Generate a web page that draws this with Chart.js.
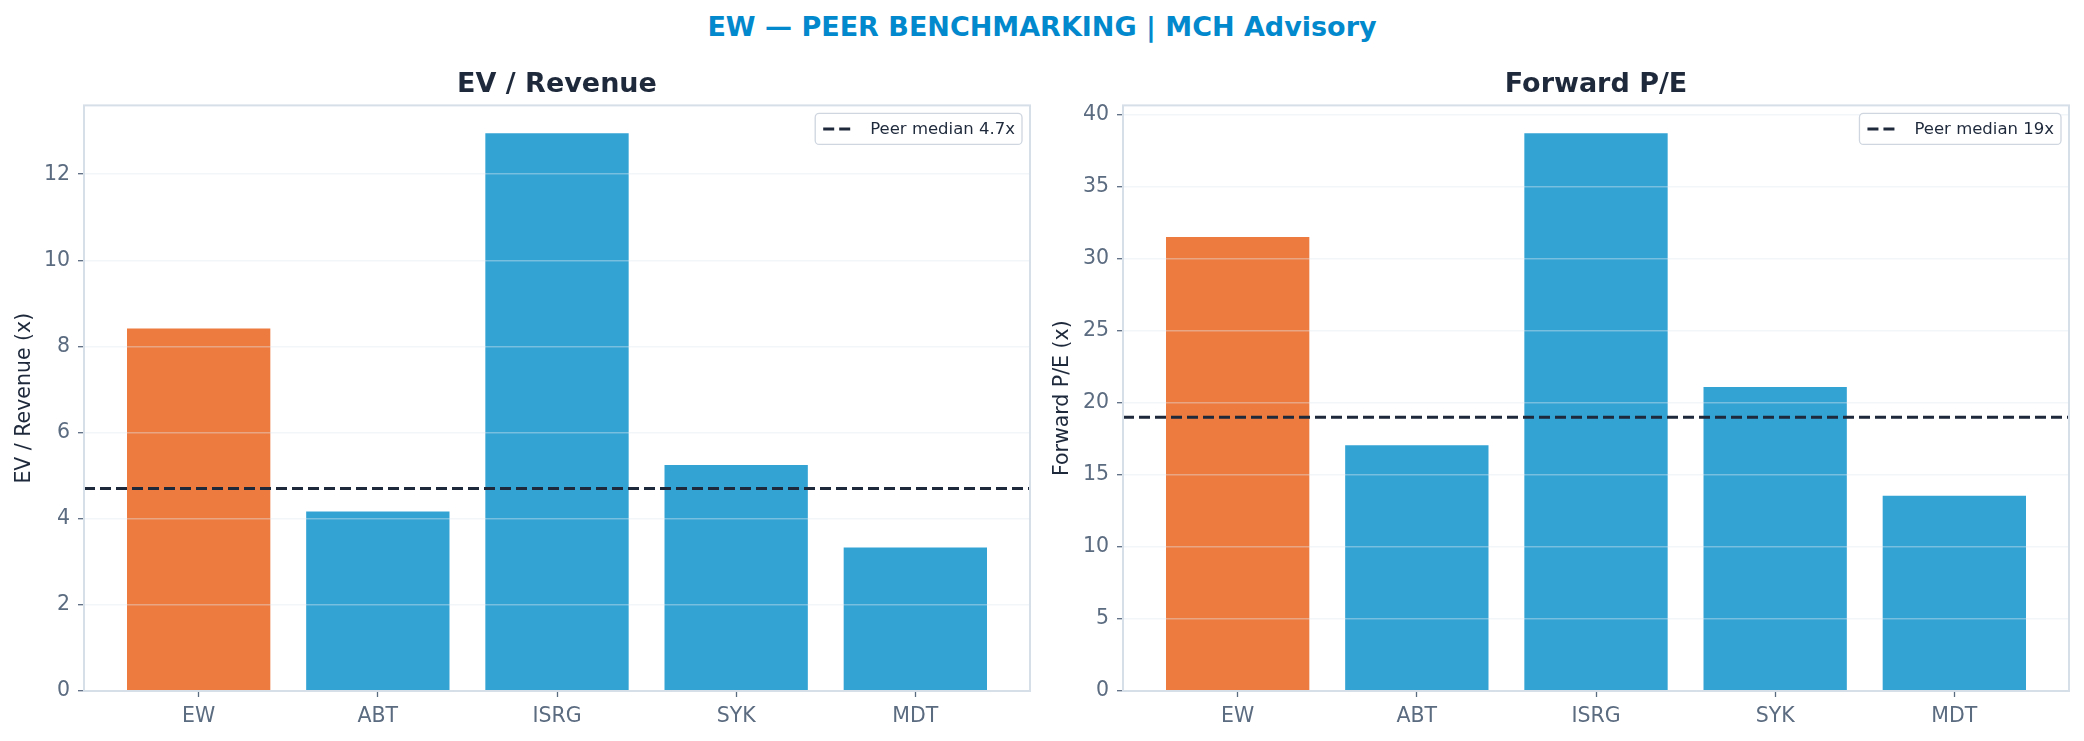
<!DOCTYPE html>
<html>
<head>
<meta charset="utf-8">
<script src="https://cdn.jsdelivr.net/npm/chart.js@4"></script>
<style>
  html, body { margin: 0; padding: 0; background: #ffffff; }
  body { width: 2084px; height: 741px; position: relative; overflow: hidden; font-family: "DejaVu Sans", sans-serif; }
  #suptitle {
    position: absolute; left: 0; top: 11px; width: 2084px; text-align: center;
    font: bold 27px/32px "DejaVu Sans", sans-serif; color: #0288cc;
  }
  .panel { position: absolute; top: 0; }
</style>
</head>
<body>
<div id="suptitle">EW — PEER BENCHMARKING | MCH Advisory</div>
<div class="panel" style="left:0px"><canvas id="evChart" width="1045" height="741"></canvas></div>
<div class="panel" style="left:1045px"><canvas id="peChart" width="1039" height="741"></canvas></div>

<script>
// Peer data
const categories = ['EW', 'ABT', 'ISRG', 'SYK', 'MDT'];
const evRevenue = [8.42, 4.17, 12.95, 5.25, 3.33];
const forwardPE = [31.5, 17.05, 38.7, 21.1, 13.55];
const medians = [4.7, 19];
const medianLabels = ['Peer median 4.7x', 'Peer median 19x'];
const evTicks = [0, 2, 4, 6, 8, 10, 12];
const peTicks = [0, 5, 10, 15, 20, 25, 30, 35, 40];

const FONT = 'DejaVu Sans';
const ORANGE = '#ED7B3F';
const BLUE = '#33A3D4';
const DARK = '#1e293b';
const TICK = '#5b6b80';
const SPINE = '#d6dee8';

// matplotlib-style x range: bars span +-0.4, 5% margin
const xMin = -0.4 - 0.05 * (categories.length - 1 + 0.8);
const xMax = categories.length - 1 + 0.4 + 0.05 * (categories.length - 1 + 0.8);

// Frame around the plot area + legend box in upper right
const framePlugin = {
    id: 'frame',
    afterLayout(chart) {
        // center the subplot title over the plot area, like matplotlib
        const t = chart.titleBlock;
        t.left = chart.chartArea.left;
        t.right = chart.chartArea.right;
        t.width = t.right - t.left;
    },
    afterDraw(chart, args, opts) {
        const ctx = chart.ctx;
        const a = chart.chartArea;
        ctx.save();
        ctx.strokeStyle = SPINE;
        ctx.lineWidth = 2;
        ctx.strokeRect(a.left, a.top, a.right - a.left, a.bottom - a.top);

        // legend
        ctx.font = '16.5px "' + FONT + '"';
        const tw = ctx.measureText(opts.label).width;
        const w = 8 + 30 + 17 + tw + 7;
        const h = 31;
        const x = a.right - 8 - w;
        const y = a.top + 8;
        ctx.fillStyle = 'rgba(255,255,255,0.85)';
        ctx.strokeStyle = '#cfd6df';
        ctx.lineWidth = 1.3;
        ctx.beginPath();
        ctx.roundRect(x, y, w, h, 4);
        ctx.fill();
        ctx.stroke();
        ctx.strokeStyle = DARK;
        ctx.lineWidth = 3;
        ctx.setLineDash([11, 5]);
        ctx.beginPath();
        ctx.moveTo(x + 8, y + h / 2);
        ctx.lineTo(x + 38, y + h / 2);
        ctx.stroke();
        ctx.setLineDash([]);
        ctx.fillStyle = DARK;
        ctx.textBaseline = 'middle';
        ctx.fillText(opts.label, x + 55, y + h / 2 + 1);
        ctx.restore();
    }
};

function makeChart(id, title, yLabel, values, median, medianLabel, yTicks, yWidth, rightPad, titlePad) {
    const ctx = document.getElementById(id).getContext('2d');
    const yMax = Math.max(...values) * 1.05;
    return new Chart(ctx, {
        type: 'bar',
        data: {
            datasets: [{
                type: 'line',
                label: medianLabel,
                data: [{ x: xMin, y: median }, { x: xMax, y: median }],
                borderColor: DARK,
                borderWidth: 3,
                borderDash: [11, 5],
                pointRadius: 0,
                order: 0
            }, {
                label: title,
                data: values.map((v, i) => ({ x: i, y: v })),
                backgroundColor: values.map((v, i) => i === 0 ? ORANGE : BLUE),
                borderWidth: 0,
                categoryPercentage: 1.0,
                barPercentage: 0.8,
                order: 1
            }]
        },
        options: {
            responsive: false,
            animation: false,
            devicePixelRatio: 1,
            layout: { padding: { left: 0, right: rightPad, top: 0, bottom: 0 } },
            plugins: {
                legend: { display: false },
                tooltip: { enabled: false },
                title: {
                    display: true,
                    text: title,
                    color: DARK,
                    font: { family: FONT, size: 27, weight: 'bold' },
                    padding: { top: 69, bottom: 4 }
                },
                frame: { label: medianLabel }
            },
            scales: {
                x: {
                    type: 'linear',
                    offset: false,
                    min: xMin,
                    max: xMax,
                    afterBuildTicks: function(scale) {
                        scale.ticks = categories.map((c, i) => ({ value: i }));
                    },
                    afterFit: function(scale) { scale.height = 50; },
                    border: { display: false },
                    grid: { offset: false, drawOnChartArea: false, drawTicks: true, tickLength: 6, tickColor: TICK, tickWidth: 1.3 },
                    ticks: {
                        color: TICK,
                        padding: 7,
                        font: { family: FONT, size: 20.5 },
                        callback: function(value) { return categories[value]; }
                    }
                },
                y: {
                    min: 0,
                    max: yMax,
                    afterBuildTicks: function(scale) {
                        scale.ticks = yTicks.map(v => ({ value: v }));
                    },
                    afterFit: function(scale) { scale.width = yWidth; },
                    border: { display: false },
                    grid: {
                        z: 1,
                        color: 'rgba(226,232,240,0.4)',
                        lineWidth: 1.4,
                        drawTicks: true,
                        tickLength: 6,
                        tickColor: TICK,
                        tickWidth: 1.3
                    },
                    ticks: {
                        color: TICK,
                        padding: 8,
                        font: { family: FONT, size: 20.5 }
                    },
                    title: {
                        display: true,
                        text: yLabel,
                        color: DARK,
                        font: { family: FONT, size: 20.5 },
                        padding: { top: titlePad, bottom: 0 }
                    }
                }
            }
        },
        plugins: [framePlugin]
    });
}

makeChart('evChart', 'EV / Revenue', 'EV / Revenue (x)', evRevenue, medians[0], medianLabels[0], evTicks, 84, 15, 12);
makeChart('peChart', 'Forward P/E', 'Forward P/E (x)', forwardPE, medians[1], medianLabels[1], peTicks, 78, 15, 5);
</script>
</body>
</html>
